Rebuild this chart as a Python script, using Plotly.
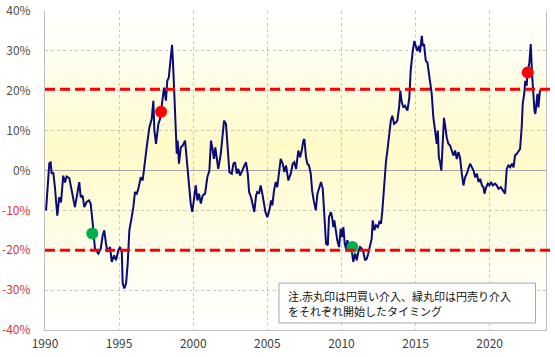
import plotly.graph_objects as go

# ---- data (decimal year, % deviation) ----
years = [1990.07,1990.16,1990.29,1990.38,1990.45,1990.56,1990.67,1990.83,1990.96,1991.08,1991.23,1991.35,1991.46,1991.64,1991.80,
1992.02,1992.18,1992.31,1992.41,1992.54,1992.65,1992.81,1992.97,1993.08,1993.22,1993.37,1993.60,1993.76,1993.89,1994.00,
1994.12,1994.23,1994.39,1994.50,1994.66,1994.79,1994.95,1995.06,1995.18,1995.24,1995.35,1995.47,1995.58,1995.69,1995.85,
1995.96,1996.07,1996.19,1996.30,1996.46,1996.59,1996.75,1996.86,1997.04,1997.20,1997.31,1997.38,1997.49,1997.65,1997.76,
1997.94,1998.03,1998.16,1998.25,1998.35,1998.43,1998.52,1998.57,1998.64,1998.72,1998.82,1998.89,1998.95,1999.04,1999.16,
1999.29,1999.45,1999.56,1999.67,1999.83,1999.94,2000.05,2000.17,2000.28,2000.39,2000.51,2000.64,2000.80,2000.95,2001.09,
2001.20,2001.32,2001.40,2001.49,2001.59,2001.69,2001.86,2001.99,2002.08,2002.21,2002.30,2002.44,2002.60,2002.71,2002.82,
2002.94,2003.04,2003.16,2003.31,2003.45,2003.56,2003.68,2003.77,2003.90,2004.01,2004.12,2004.24,2004.32,2004.44,2004.55,
2004.66,2004.78,2004.87,2005.00,2005.14,2005.25,2005.34,2005.45,2005.57,2005.67,2005.79,2005.90,2006.04,2006.15,2006.26,
2006.42,2006.58,2006.71,2006.82,2006.94,2007.09,2007.21,2007.32,2007.43,2007.50,2007.61,2007.70,2007.81,2007.93,2008.02,
2008.13,2008.27,2008.38,2008.51,2008.62,2008.74,2008.85,2008.96,2009.08,2009.16,2009.28,2009.37,2009.45,2009.52,2009.62,
2009.72,2009.84,2009.95,2010.04,2010.13,2010.22,2010.31,2010.40,2010.51,2010.69,2010.80,2010.92,2011.03,2011.14,2011.26,
2011.37,2011.48,2011.59,2011.71,2011.81,2011.93,2012.04,2012.11,2012.22,2012.33,2012.45,2012.56,2012.67,2012.76,2012.87,
2013.01,2013.10,2013.21,2013.33,2013.43,2013.55,2013.66,2013.77,2013.89,2013.97,2014.07,2014.18,2014.29,2014.45,2014.58,
2014.67,2014.81,2014.92,2015.01,2015.12,2015.24,2015.30,2015.42,2015.49,2015.57,2015.69,2015.80,2015.89,2015.98,2016.09,
2016.20,2016.32,2016.43,2016.50,2016.57,2016.65,2016.74,2016.84,2016.92,2017.01,2017.10,2017.21,2017.33,2017.44,2017.55,
2017.67,2017.78,2017.89,2018.00,2018.12,2018.23,2018.34,2018.46,2018.56,2018.68,2018.91,2019.02,2019.14,2019.25,2019.36,
2019.48,2019.58,2019.65,2019.76,2019.88,2019.98,2020.09,2020.21,2020.36,2020.48,2020.59,2020.75,2020.93,2021.04,2021.15,
2021.26,2021.38,2021.50,2021.61,2021.71,2021.83,2021.94,2022.05,2022.16,2022.23,2022.34,2022.40,2022.50,2022.54,2022.68,
2022.77,2022.86,2022.95,2023.02,2023.08,2023.15,2023.22,2023.29,2023.38,2023.45]

values = [-10,-5.8,1.8,2.0,-0.8,-0.5,-4.2,-11.3,-6.7,-8,-1.3,-3,-1.5,-1.9,-5,
-9.2,-5.8,-2.9,-6.7,-6.3,-9.2,-7.9,-7.5,-8.3,-13.3,-19.6,-20.8,-19.6,-16.3,-15,
-18.5,-20.4,-19.2,-22.9,-21.3,-22.5,-20,-19.2,-20.4,-28.3,-29.6,-28.3,-23.3,-15,-11.7,
-9.2,-5.4,-5.8,-4.6,-1.7,-2.5,3.3,5.8,10.8,12.9,17.5,10,6.7,11.7,12.9,
18.3,20.8,17.5,22.5,23.3,27.1,29.2,31.5,26.7,18.3,10,4.2,7.5,1.7,5.8,
6.25,7.5,2.5,-3.3,-8.3,-10.4,-6.7,-3.75,-7.5,-5.8,-8.3,-6.25,-5.8,-1.7,0,
7.5,5,2.9,5.8,2.5,0.4,4.2,10,12.5,11.7,6.7,-0.4,-0.8,1.7,2.1,
-0.8,0.4,-1.25,0,1.25,2.1,-0.8,-5.4,-6.7,-8.3,-10.4,-6.25,-5.4,-5.8,-3.75,
-5.8,-9.2,-10.4,-11.7,-10,-7.5,-8.75,-5,-2.9,-4.2,0,2.9,1.7,-0.4,1.25,
-2.5,-0.8,1.7,2.1,0.4,5,3.3,5,7.5,7.9,3.3,1.7,1.25,-0.8,-5,
-7.5,-10,-5.8,-4.2,-2.9,-4.6,-11.7,-18.3,-18.75,-11.7,-10.4,-11.7,-14.2,-12.5,-15,
-17.5,-19.2,-14.6,-16.7,-14.2,-18.3,-19.6,-17.5,-19.2,-20,-22.9,-20.8,-22.5,-20.4,-19.2,
-19.6,-20.4,-22.5,-22.1,-20.8,-19.2,-17.1,-12.5,-15,-13.75,-14.2,-12.9,-13.3,-10,-3.3,
2.5,5,8.3,12.5,13.75,11.7,12,12.5,15.8,20,17.1,15.8,16.25,15,18.3,
25,30,32.5,31.25,30,31.25,29.6,33.75,31.25,31.7,27.5,27.1,24.6,22.5,19.2,
13.3,9.2,6.7,10,3.3,2.1,0,7.5,13.2,10.8,8.3,6.7,6.25,5,3.75,
5,2.9,4.6,3.3,-0.8,-3.75,-1.7,-0.8,0.4,1.7,0,-1.7,-0.8,-2.9,-2.1,
-3.75,-4.2,-5.8,-4.2,-3.3,-3.75,-2.9,-3.75,-3.3,-3.75,-4.6,-4.2,-5.4,-5.8,0.4,
1.25,0.8,1.7,0.8,3.75,4.2,5,5.4,10.8,16.7,19.6,22.5,21.25,24.2,27.1,
31.7,24.2,17.5,15,14.2,16.7,19.2,15.8,19.6,20.4]

buy_x = [1997.83, 2022.57]     # yen-buying intervention (red)
buy_y = [14.75, 24.6]
sell_x = [1993.19, 2010.74]    # yen-selling intervention (green)
sell_y = [-15.8, -19.2]

thresholds = [20.4, -20.0]

x_ticks = [1990, 1995, 2000, 2005, 2010, 2015, 2020]
y_ticks = [-40, -30, -20, -10, 0, 10, 20, 30, 40]
y_tick_text = [f"<span style='color:#E0303A'>{v}%</span>" if v < 0 else f"{v}%" for v in y_ticks]

note_lines = ["注.赤丸印は円買い介入、緑丸印は円売り介入", "をそれぞれ開始したタイミング"]

FONT = "Noto Sans CJK JP"

fig = go.Figure()

# background vertical gradient (pale yellow, strongest near the middle)
n_bands = 60
ymin, ymax = -40, 40
peak = 6.0
for i in range(n_bands):
    y0 = ymin + (ymax - ymin) * i / n_bands
    y1 = ymin + (ymax - ymin) * (i + 1) / n_bands
    yc = (y0 + y1) / 2
    if yc >= peak:
        t = (yc - peak) / (ymax - peak)
    else:
        t = (peak - yc) / (peak - ymin)
    t = min(max(t, 0), 1)
    w = (1 - t) ** 1.2
    g = round(255 - 5 * w)
    b = round(255 - 58 * w)
    fig.add_shape(type="rect", xref="x domain", yref="y", x0=0, x1=1, y0=y0, y1=y1,
                  fillcolor=f"rgb(255,{g},{b})", line=dict(width=0), layer="below")

fig.add_trace(go.Scatter(x=years, y=values, mode="lines",
                         line=dict(color="#0A0A78", width=2), showlegend=False, hoverinfo="skip"))

for th in thresholds:
    fig.add_shape(type="line", xref="paper", yref="y", x0=0, x1=1.012, y0=th, y1=th,
                  line=dict(color="#FF0000", width=3, dash="10px,5px"))

fig.add_trace(go.Scatter(x=buy_x, y=buy_y, mode="markers",
                         marker=dict(color="#FF0000", size=12), showlegend=False))
fig.add_trace(go.Scatter(x=sell_x, y=sell_y, mode="markers",
                         marker=dict(color="#00B050", size=12), showlegend=False))

# note box
fig.add_shape(type="rect", xref="paper", yref="paper", x0=0.467, x1=0.979, y0=0.022, y1=0.147,
              fillcolor="white", line=dict(color="#A6A6A6", width=1), layer="above")
for txt, yy in zip(note_lines, [0.108, 0.0611]):
    fig.add_annotation(xref="paper", yref="paper", x=0.481, y=yy, xanchor="left", yanchor="middle",
                       text=txt, showarrow=False, align="left",
                       font=dict(family=FONT, size=11, color="#111111"))

fig.update_layout(
    width=555, height=357,
    margin=dict(l=45, r=9, t=11, b=27),
    paper_bgcolor="white", plot_bgcolor="white",
    font=dict(family=FONT, size=12, color="#404040"),
)
fig.update_xaxes(range=[1990, 2023.8], tickvals=x_ticks, ticktext=[str(v) for v in x_ticks],
                 showgrid=True, gridcolor="#C8C8C8", griddash="3px,3px", gridwidth=1,
                 showline=True, linecolor="#BFBFBF", linewidth=1, mirror=False,
                 zeroline=False, ticks="", automargin=False, ticklabelstandoff=3,
                 tickfont=dict(size=12, color="#404040"))
fig.update_yaxes(range=[-40, 40], tickvals=y_ticks, ticktext=y_tick_text,
                 showgrid=True, gridcolor="#C8C8C8", griddash="3px,3px", gridwidth=1,
                 showline=True, linecolor="#BFBFBF", linewidth=1, mirror=True,
                 zeroline=True, zerolinecolor="#A6A6A6", zerolinewidth=1,
                 ticks="", automargin=False, ticklabelstandoff=11,
                 tickfont=dict(size=12, color="#505050"))

fig.write_html("out.html", config={"displayModeBar": False},
               post_script="document.body.style.margin='0';")
